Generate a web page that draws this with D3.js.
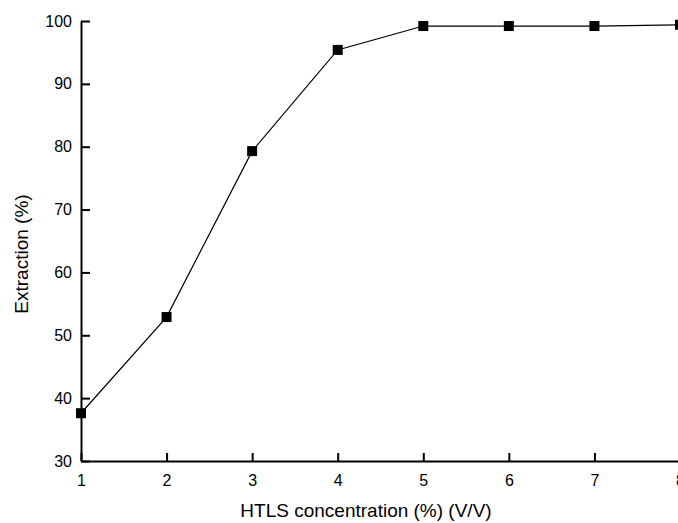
<!DOCTYPE html>
<html>
<head>
<meta charset="utf-8">
<script src="https://cdn.jsdelivr.net/npm/d3@7"></script>
<style>
  body { margin: 0; background: #fff; }
  svg { display: block; }
</style>
</head>
<body>
<script>
// data
const concentration = [1, 2, 3, 4, 5, 6, 7, 8]
const extraction = [37.6, 52.9, 79.3, 95.4, 99.2, 99.2, 99.2, 99.4]
const xTicks = [1, 2, 3, 4, 5, 6, 7, 8]
const yTicks = [30, 40, 50, 60, 70, 80, 90, 100]

const width = 678
const height = 523
const margin = { top: 21, right: -2, bottom: 62, left: 81 }
const font = "'Liberation Sans', Arial, sans-serif"

const data = concentration.map((c, i) => ({ x: c, y: extraction[i] }))

const svg = d3.select("body").append("svg")
    .attr("width", width)
    .attr("height", height)
    .attr("xmlns", "http://www.w3.org/2000/svg")
    .style("font-family", font)

const x = d3.scaleLinear().domain([1, 8]).range([margin.left, width - margin.right])
const y = d3.scaleLinear().domain([30, 100]).range([height - margin.bottom, margin.top])

// x axis, ticks pointing inward
svg.append("g")
    .attr("transform", `translate(0,${y(30)})`)
    .call(d3.axisBottom(x).tickValues(xTicks).tickFormat(d3.format("d")).tickSizeInner(-8).tickSizeOuter(0).tickPadding(14))
    .call(g => g.attr("font-size", 16).attr("font-family", font))
    .call(g => g.select(".domain").attr("stroke-width", 2))
    .call(g => g.selectAll(".tick line").attr("stroke-width", 2))
    .call(g => g.selectAll(".tick text").attr("fill", "#000"))

// y axis
svg.append("g")
    .attr("transform", `translate(${x(1)},0)`)
    .call(d3.axisLeft(y).tickValues(yTicks).tickSizeInner(-9).tickSizeOuter(0).tickPadding(9))
    .call(g => g.attr("font-size", 16).attr("font-family", font))
    .call(g => g.select(".domain").attr("stroke-width", 2))
    .call(g => g.selectAll(".tick line").attr("stroke-width", 2))
    .call(g => g.selectAll(".tick text").attr("fill", "#000"))

const line = d3.line().x(d => x(d.x)).y(d => y(d.y))

svg.append("path")
    .datum(data)
    .attr("fill", "none")
    .attr("stroke", "#000")
    .attr("stroke-width", 1.2)
    .attr("d", line)

const s = 10
svg.append("g")
    .selectAll("rect")
    .data(data)
    .join("rect")
    .attr("x", d => x(d.x) - s / 2)
    .attr("y", d => y(d.y) - s / 2)
    .attr("width", s)
    .attr("height", s)
    .attr("fill", "#000")

svg.append("text")
    .attr("x", 366)
    .attr("y", 517)
    .attr("text-anchor", "middle")
    .attr("font-size", 19)
    .text("HTLS concentration (%) (V/V)")

svg.append("text")
    .attr("transform", `translate(28,254) rotate(-90)`)
    .attr("text-anchor", "middle")
    .attr("font-size", 19)
    .text("Extraction (%)")
</script>
</body>
</html>
